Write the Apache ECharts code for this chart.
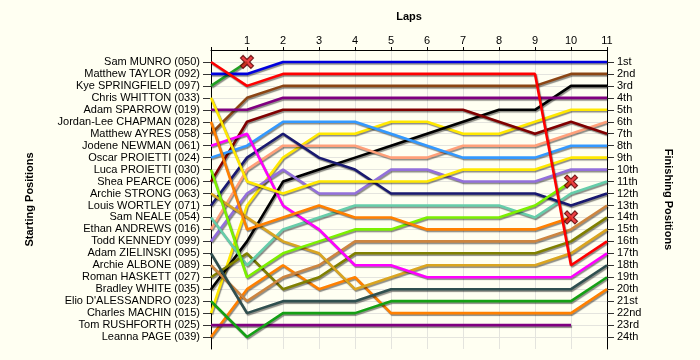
<!DOCTYPE html>
<html>
<head>
<meta charset="utf-8">
<script src="https://cdn.jsdelivr.net/npm/echarts@6/dist/echarts.min.js"></script>
<style>html,body{margin:0;padding:0;background:#FFFFF2;}#c{width:700px;height:360px;}</style>
</head>
<body>
<div id="c"></div>
<script>
const laps = [0, 1, 2, 3, 4, 5, 6, 7, 8, 9, 10, 11];
const startNames = [
  'Sam MUNRO (050)', 'Matthew TAYLOR (092)', 'Kye SPRINGFIELD (097)', 'Chris WHITTON (033)',
  'Adam SPARROW (019)', 'Jordan-Lee CHAPMAN (028)', 'Matthew AYRES (058)', 'Jodene NEWMAN (061)',
  'Oscar PROIETTI (024)', 'Luca PROIETTI (030)', 'Shea PEARCE (006)', 'Archie STRONG (063)',
  'Louis WORTLEY (071)', 'Sam NEALE (054)', 'Ethan ANDREWS (016)', 'Todd KENNEDY (099)',
  'Adam ZIELINSKI (095)', 'Archie ALBONE (089)', 'Roman HASKETT (027)', 'Bradley WHITE (035)',
  "Elio D'ALESSANDRO (023)", 'Charles MACHIN (015)', 'Tom RUSHFORTH (025)', 'Leanna PAGE (039)'
];
const finishLabels = ['1st','2nd','3rd','4th','5th','6th','7th','8th','9th','10th','11th','12th',
  '13th','14th','15th','16th','17th','18th','19th','20th','21st','22nd','23rd','24th'];

// positions per lap (lap 0 = start)
const munro       = [1, 3, 2, 2, 2, 2, 2, 2, 2, 2, 18, 16];
const taylor      = [2, 2, 1, 1, 1, 1, 1, 1, 1, 1, 1, 1];
const springfield = [3, 1];
const whitton     = [4, 11, 12, 11, 11, 11, 11, 10, 10, 10, 9, 9];
const sparrow     = [5, 5, 4, 4, 4, 4, 4, 4, 4, 4, 4, 4];
const chapman     = [6, 15, 14, 13, 14, 14, 15, 15, 15, 15, 14];
const ayres       = [7, 4, 3, 3, 3, 3, 3, 3, 3, 3, 2, 2];
const newman      = [8, 7, 13, 15, 18, 18, 19, 19, 19, 19, 19, 17];
const oProietti   = [9, 8, 6, 6, 6, 7, 8, 9, 9, 9, 8, 8];
const lProietti   = [10, 19, 17, 16, 15, 15, 14, 14, 14, 13, 11];
const pearce      = [11, 6, 5, 5, 5, 5, 5, 5, 6, 7, 6, 7];
const strong      = [12, 14, 16, 17, 20, 19, 18, 18, 18, 18, 17, 15];
const wortley     = [13, 9, 7, 9, 10, 12, 12, 12, 12, 12, 13, 12];
const neale       = [14, 18, 15, 14, 13, 13, 13, 13, 13, 14, 12, 11];
const andrews     = [15, 10, 8, 8, 8, 9, 9, 8, 8, 8, 7, 6];
const kennedy     = [16, 12, 10, 12, 12, 10, 10, 11, 11, 11, 10, 10];
const zielinski   = [17, 22, 21, 21, 21, 20, 20, 20, 20, 20, 20, 18];
const albone      = [18, 21, 19, 18, 16, 16, 16, 16, 16, 16, 15, 13];
const haskett     = [19, 17, 20, 19, 17, 17, 17, 17, 17, 17, 16, 14];
const white       = [20, 16, 11, 10, 9, 8, 7, 6, 5, 5, 3, 3];
const dalessandro = [21, 24, 22, 22, 22, 21, 21, 21, 21, 21, 21, 19];
const machin      = [22, 13, 9, 7, 7, 6, 6, 7, 7, 6, 5, 5];
const rushforth   = [23, 23, 23, 23, 23, 23, 23, 23, 23, 23, 23];
const page        = [24, 20, 18, 20, 19, 22, 22, 22, 22, 22, 22, 20];

const allPositions = [munro, taylor, springfield, whitton, sparrow, chapman, ayres, newman,
  oProietti, lProietti, pearce, strong, wortley, neale, andrews, kennedy, zielinski, albone,
  haskett, white, dalessandro, machin, rushforth, page];
// drivers that retired (X marker at their last lap)
const retired = [2, 5, 9];

const colors = ['#FF0000','#0000DD','#22A022','#FFE800','#800080','#FF8000','#8B4513','#FF00FF',
  '#3399FF','#7CF000','#800000','#DAA520','#191970','#66CDAA','#FFA07A','#9370DB',
  '#2F4F4F','#CD853F','#808000','#000000','#14A014','#FFE800','#800080','#FF8000'];

const FONT = 'Liberation Sans, Arial, sans-serif';
const tickVals = finishLabels.map((_, i) => i + 1);

const series = [];
for (let d = allPositions.length - 1; d >= 0; d--) {
  series.push({
    type: 'line',
    name: startNames[d],
    data: allPositions[d].map((p, i) => [laps[i], p]),
    symbol: 'none',
    silent: true,
    lineStyle: {
      width: 2.6, color: colors[d],
      shadowColor: 'rgba(0,0,0,0.45)', shadowBlur: 1, shadowOffsetX: 1, shadowOffsetY: 1.5
    },
    z: 2
  });
}
series.push({
  type: 'scatter',
  silent: true,
  symbol: 'path://M2,0 L5,3 L8,0 L10,2 L7,5 L10,8 L8,10 L5,7 L2,10 L0,8 L3,5 L0,2 Z',
  symbolSize: 13,
  itemStyle: { color: '#E8141B', borderColor: '#5A0000', borderWidth: 1.2 },
  data: retired.map(d => {
    const arr = allPositions[d];
    return [laps[arr.length - 1], arr[arr.length - 1]];
  }),
  z: 5
});

const chart = echarts.init(document.getElementById('c'), null, { renderer: 'canvas' });
chart.setOption({
  backgroundColor: '#FFFFF2',
  animation: false,
  textStyle: { fontFamily: FONT },
  grid: { left: 211, right: 93, top: 50, bottom: 11 },
  xAxis: {
    type: 'value', position: 'top', min: 0, max: 11, interval: 1,
    name: 'Laps', nameLocation: 'middle', nameGap: 28,
    nameTextStyle: { fontWeight: 'bold', fontSize: 11, color: '#000', fontFamily: FONT },
    axisLine: { lineStyle: { color: '#000', width: 1 } },
    axisTick: { show: true, length: 3, lineStyle: { color: '#000' } },
    axisLabel: { formatter: v => (v === 0 ? '' : String(v)), color: '#000', fontSize: 11, margin: 4, fontFamily: FONT },
    splitLine: { show: true, lineStyle: { color: '#E4E4DE' } }
  },
  yAxis: [
    {
      type: 'value', inverse: true, min: 0, max: 25, interval: 1, position: 'left',
      name: 'Starting Positions', nameLocation: 'middle', nameRotate: 90, nameGap: 176,
      nameTextStyle: { fontWeight: 'bold', fontSize: 11, color: '#000', fontFamily: FONT },
      axisLine: { show: true, lineStyle: { color: '#000' } },
      axisTick: { show: true, length: 8, customValues: tickVals, lineStyle: { color: '#333' } },
      axisLabel: { customValues: tickVals, formatter: v => startNames[v - 1] || '', color: '#000', fontSize: 11, margin: 11, fontFamily: FONT },
      splitLine: { show: true, lineStyle: { color: '#E4E4DE' } }
    },
    {
      type: 'value', inverse: true, min: 0, max: 25, interval: 1, position: 'right',
      name: 'Finishing Positions', nameLocation: 'middle', nameRotate: -90, nameGap: 56,
      nameTextStyle: { fontWeight: 'bold', fontSize: 11, color: '#000', fontFamily: FONT },
      axisLine: { show: true, lineStyle: { color: '#000' } },
      axisTick: { show: true, length: 7, customValues: tickVals, lineStyle: { color: '#333' } },
      axisLabel: { customValues: tickVals, formatter: v => finishLabels[v - 1] || '', color: '#000', fontSize: 11, margin: 10, fontFamily: FONT },
      splitLine: { show: false }
    }
  ],
  series: series
});
</script>
</body>
</html>
